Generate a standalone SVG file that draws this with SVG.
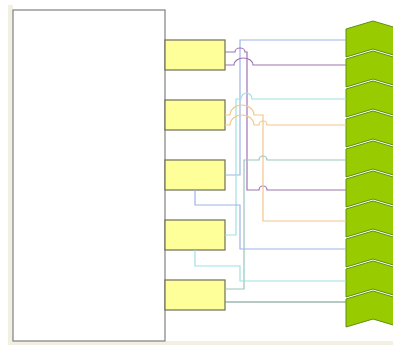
<svg xmlns="http://www.w3.org/2000/svg" width="393" height="347" viewBox="0 0 393 347">
<style>
.bg{fill:#f2f0e2}
.main{fill:#ffffff;stroke:#808080;stroke-width:1.2}
.box{fill:#ffff99;stroke:#6e6e58;stroke-width:1.2}
.chev{fill:#99cc00;stroke:#5f8f10;stroke-width:1}
.ln{fill:none;stroke-width:1.2}
.blue{stroke:#9db4e6}
.purple{stroke:#a074b4}
.cyan{stroke:#9fe2e2}
.orange{stroke:#f2c88a}
.teal{stroke:#9cc4bc}
.dark{stroke:#6e9488}
</style>
<rect class="bg" x="8" y="5" width="5" height="340"/>
<rect class="bg" x="8" y="341" width="385" height="4"/>
<g id="main"><rect class="main" x="13" y="10" width="152" height="331"/></g>
<g id="box1"><rect class="box" x="165" y="40" width="60" height="30"/></g>
<g id="box2"><rect class="box" x="165" y="100" width="60" height="30"/></g>
<g id="box3"><rect class="box" x="165" y="160" width="60" height="30"/></g>
<g id="box4"><rect class="box" x="165" y="220" width="60" height="30"/></g>
<g id="box5"><rect class="box" x="165" y="280" width="60" height="30"/></g>
<g id="chevrons">
<path id="chev0" class="chev" d="M346,29 L373,21 L400,29 L400,57 L373,49 L346,57 Z"/>
<path id="chev1" class="chev" d="M346,59 L373,51 L400,59 L400,87 L373,79 L346,87 Z"/>
<path id="chev2" class="chev" d="M346,89 L373,81 L400,89 L400,117 L373,109 L346,117 Z"/>
<path id="chev3" class="chev" d="M346,119 L373,111 L400,119 L400,147 L373,139 L346,147 Z"/>
<path id="chev4" class="chev" d="M346,149 L373,141 L400,149 L400,177 L373,169 L346,177 Z"/>
<path id="chev5" class="chev" d="M346,179 L373,171 L400,179 L400,207 L373,199 L346,207 Z"/>
<path id="chev6" class="chev" d="M346,209 L373,201 L400,209 L400,237 L373,229 L346,237 Z"/>
<path id="chev7" class="chev" d="M346,239 L373,231 L400,239 L400,267 L373,259 L346,267 Z"/>
<path id="chev8" class="chev" d="M346,269 L373,261 L400,269 L400,297 L373,289 L346,297 Z"/>
<path id="chev9" class="chev" d="M346,299 L373,291 L400,299 L400,327 L373,319 L346,327 Z"/>
</g>
<g id="connectors">
<path class="ln blue" d="M225,175 H240 V40 H346"/>
<path class="ln purple" d="M225,52 H235 A5 4 0 0 1 245 52 H247 V190 H259 A4 4 0 0 1 267 190 H346"/>
<path class="ln purple" d="M225,65 H234 A9.5 7 0 0 1 253 65 H346"/>
<path class="ln cyan" d="M225,235 H236 V99 H241 A5.5 6 0 0 1 252 99 H346"/>
<path class="ln orange" d="M225,115 H230 A12 10 0 0 1 254 115 H263 V221 H346"/>
<path class="ln orange" d="M225,125 H230 A12 10 0 0 1 254 125 H259 A4 4 0 0 1 267 125 H346"/>
<path class="ln teal" d="M225,289 H244 V160 H259 A4 4 0 0 1 267 160 H346"/>
<path class="ln blue" d="M195,190 V205 H240 V249 H346"/>
<path class="ln cyan" d="M195,250 V266 H240 V281 H346"/>
<path class="ln dark" d="M225,302 H346"/>
</g>
</svg>
